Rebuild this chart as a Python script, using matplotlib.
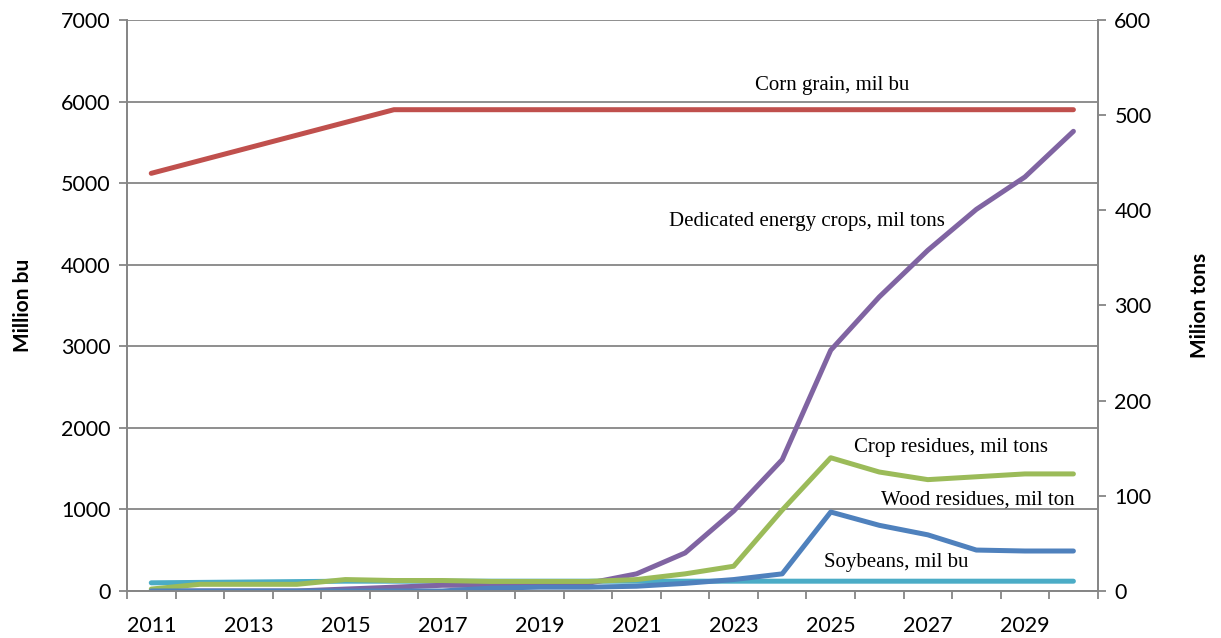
import numpy as np
import matplotlib
matplotlib.use("Agg")
import matplotlib.pyplot as plt
from matplotlib.ticker import FixedLocator, NullFormatter

years = list(range(2011, 2031))

# million bushels (left axis)
corn_grain = [5120, 5276, 5432, 5588, 5744, 5900, 5900, 5900, 5900, 5900,
              5900, 5900, 5900, 5900, 5900, 5900, 5900, 5900, 5900, 5900]
soybeans = [100, 105, 110, 115, 120, 120, 120, 120, 120, 120,
            120, 120, 120, 120, 120, 120, 120, 120, 120, 120]

# million tons (right axis)
energy_crops = [0, 0, 0, 0, 2, 4, 6, 6, 7, 8,
                18, 40, 84, 138, 253, 309, 358, 401, 435, 483]
crop_residues = [2, 7, 7, 7, 12, 11, 11, 10, 10, 10,
                 12, 18, 26, 85, 140, 125, 117, 120, 123, 123]
wood_residues = [0, 0, 0, 0, 0, 0, 0, 3, 4, 4,
                 5, 8, 12, 18, 83, 69, 59, 43, 42, 42]

grey = "#868686"
x = np.arange(len(years))

fig = plt.figure(figsize=(12.21, 6.38), dpi=100)
ax = fig.add_axes([0.104, 0.0737, 0.795, 0.895])
ax2 = ax.twinx()

lw = 3.6
ax.plot(x, corn_grain, color="#C0504D", lw=lw, solid_capstyle="round", zorder=3)
ax.plot(x, soybeans, color="#4BACC6", lw=lw, solid_capstyle="round", zorder=3)
ax2.plot(x, energy_crops, color="#8064A2", lw=lw, solid_capstyle="round")
ax2.plot(x, crop_residues, color="#9BBB59", lw=lw, solid_capstyle="round")
ax2.plot(x, wood_residues, color="#4F81BD", lw=lw, solid_capstyle="round")

ax.set_xlim(-0.5, len(years) - 0.5)
ax.set_ylim(0, 7000)
ax2.set_ylim(0, 600)
ax.set_yticks(range(0, 7001, 1000))
ax2.set_yticks(range(0, 601, 100))
ax.yaxis.grid(True, color=grey, lw=1.3)
ax.set_axisbelow(True)

# tick marks between categories, labels on every other year
ax.xaxis.set_major_locator(FixedLocator(np.arange(-0.5, len(years), 1)))
ax.xaxis.set_major_formatter(NullFormatter())
ax.xaxis.set_minor_locator(FixedLocator(x[::2]))
ax.set_xticklabels([str(y) for y in years[::2]], minor=True)
ax.tick_params(axis="x", which="minor", length=0, pad=18)
ax.tick_params(axis="x", which="major", length=6, color=grey, width=1.3)

for lab in ax.get_xticklabels(minor=True) + ax.get_yticklabels() + ax2.get_yticklabels():
    lab.set_fontfamily("Lato")
    lab.set_fontsize(15.5)
ax.tick_params(axis="y", length=6, color=grey, width=1.3, pad=6)
ax2.tick_params(axis="y", length=6, color=grey, width=1.3, pad=6)

for a in (ax, ax2):
    a.spines["top"].set_visible(False)
    for s in ("left", "right", "bottom"):
        a.spines[s].set_color(grey)
        a.spines[s].set_linewidth(1.3)

ax.set_ylabel("Million bu", fontfamily="Lato", fontweight="bold", fontsize=15, labelpad=20)
ax2.set_ylabel("Milion tons", fontfamily="Lato", fontweight="bold", fontsize=15,
               rotation=90, labelpad=28)

serif = dict(family="Liberation Serif", size=15, ha="center", va="center")
ax.text(14.04, 6200, "Corn grain, mil bu", **serif)
ax2.text(13.5, 388, "Dedicated energy crops, mil tons", **serif)
ax2.text(16.47, 151, "Crop residues, mil tons", **serif)
ax2.text(17.03, 96, "Wood residues, mil ton", **serif)
ax.text(15.36, 345, "Soybeans, mil bu", **serif)

fig.savefig("out.png", dpi=100)
